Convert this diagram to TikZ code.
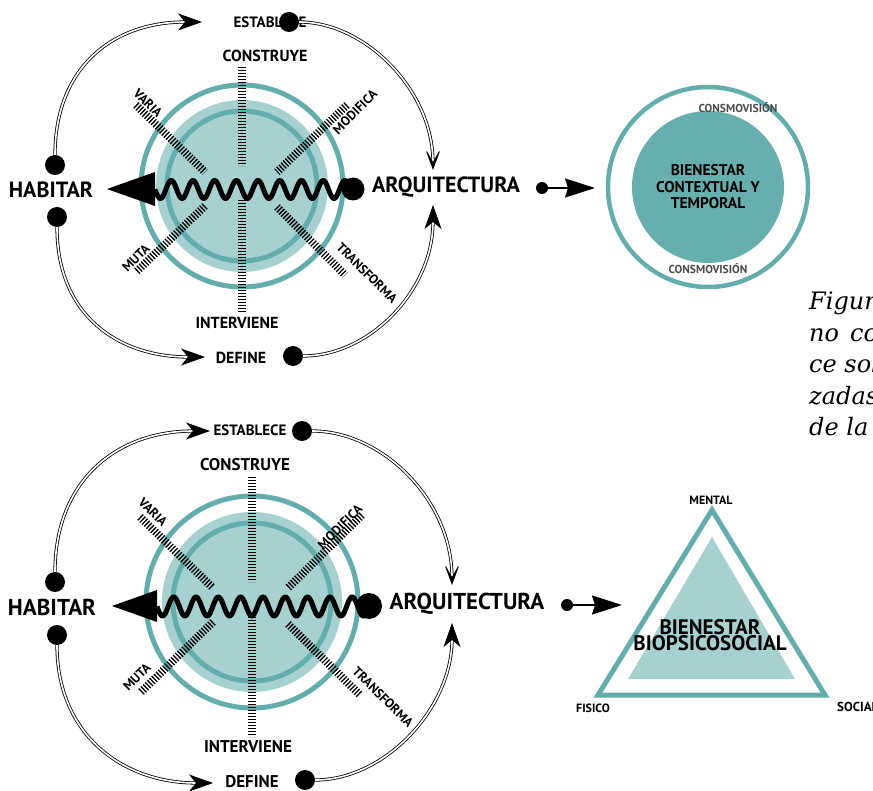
\documentclass[tikz,border=0pt]{standalone}
\usepackage{fontspec}
\setmainfont{PT Sans}
\newfontfamily\capfont{DejaVu Serif}
\usetikzlibrary{arrows.meta}
\definecolor{ringteal}{HTML}{63ADAC}
\definecolor{discteal}{HTML}{A6D1D0}
\definecolor{fullteal}{HTML}{67AFAE}
\definecolor{labelgray}{HTML}{4A4A4A}
\tikzset{
  ring/.style={draw=ringteal, line width=5pt},
  hatch/.style={line width=8pt, dash pattern=on 1.3pt off 1.7pt},
  wave/.style={line width=5pt, line join=round},
  dot/.style={circle, fill=black, inner sep=0pt, minimum size=#1},
  dot/.default=20pt,
  loopfill/.style={double=white, double distance=1.6pt, line width=0.8pt,
    -{Stealth[length=24pt,width=17pt,inset=7pt]}},
  loopopen/.style={double=white, double distance=1.6pt, line width=0.8pt,
    -{Stealth[length=23pt,width=17pt,inset=15pt]}},
  shortarrow/.style={line width=2pt, -{Stealth[length=30pt,width=19pt,inset=3pt]}},
  bigtxt/.style={inner sep=0pt, font=\bfseries\fontsize{#1}{#1}\selectfont},
  labtxt/.style={inner sep=0pt, font=\bfseries\fontsize{#1}{#1}\selectfont},
  graytxt/.style={inner sep=0pt, text=labelgray, font=\bfseries\fontsize{11.5}{11.5}\selectfont},
  capt/.style={inner sep=0pt, font=\capfont\itshape\fontsize{24}{31.5}\selectfont}
}
\begin{document}
\begin{tikzpicture}[x=1pt, y=-1pt]
  \useasboundingbox (0,0) rectangle (873,791);
  \clip (0,0) rectangle (873,791);

  % ---- upper diagram
  \draw[ring] (242,186) circle (101pt);
  \fill[discteal] (242,186) circle (86pt);
  \draw[ring] (242,186) circle (75pt);
  \draw[hatch] (242,67) -- (242,166);
  \draw[hatch] (242,200) -- (242,312);
  \draw[hatch] (136,105) -- (205,172);
  \draw[hatch] (347,105) -- (277,172);
  \draw[hatch] (205,206) -- (136,272);
  \draw[hatch] (277,207) -- (345,275);

  \node[dot=23pt] (aqa) at (353,189) {};
  \coordinate (tipa) at (107,189);
  \coordinate (basea) at (155,189);
  \draw[wave] plot[domain=155:353, samples=260, smooth] (\x, {189.5+9*sin((\x-155)*16.59)});
  \fill (tipa) -- (155,172) -- (155,206) -- cycle;

  \node[bigtxt=22] (haba) at (51,190) {HABITAR};
  \node[bigtxt=22] (arqa) at (446,187) {ARQUITECTURA};
  \node[labtxt=16] (cona) at (265,56) {CONSTRUYE};
  \node[labtxt=16] (inta) at (237,323) {INTERVIENE};
  \node[labtxt=15] (esta) at (270,22) {ESTABLECE};
  \node[labtxt=16] (defa) at (241,358) {DEFINE};
  \node[labtxt=13, rotate=-45] (vara) at (148,103) {VARIA};
  \node[labtxt=13, rotate=45] (moda) at (355,112) {MODIFICA};
  \node[labtxt=13, rotate=45] (muta) at (136,258) {MUTA};
  \node[labtxt=13, rotate=-45] (tra) at (367,273) {TRANSFORMA};

  \node[dot] (hua) at (55,165) {};
  \node[dot] (hla) at (57,217) {};
  \node[dot] (eda) at (289,22) {};
  \node[dot] (dda) at (293,356) {};
  \coordinate (tea) at (202,22);
  \coordinate (tfa) at (205,357);
  \coordinate (tda) at (433,170);
  \coordinate (tua) at (433,205);
  \draw[loopfill] (hua) .. controls +(0,-95) and +(-92,0) .. (tea);
  \draw[loopopen] (eda) .. controls +(76,0) and +(0,-80) .. (tda);
  \draw[loopfill] (hla) .. controls +(0,100) and +(-85,0) .. (tfa);
  \draw[loopfill] (dda) .. controls +(77,0) and +(0,85) .. (tua);

  % ---- circle of wellbeing
  \node[dot=12pt] (sda) at (542,188) {};
  \coordinate (sta) at (595,188);
  \draw[shortarrow] (sda) -- (sta);
  \draw[draw=ringteal, line width=4.5pt] (708,187) circle (100pt);
  \fill[fullteal] (708,187) circle (76pt);
  \node[inner sep=0pt, align=center, font=\bfseries\fontsize{15.5}{16.5}\selectfont] (bct) at (708,187)
    {BIENESTAR\\CONTEXTUAL Y\\TEMPORAL};
  \node[graytxt] (cmt) at (738,108) {CONSMOVISIÓN};
  \node[graytxt] (cmb) at (708,269) {CONSMOVISIÓN};

  \node[capt, anchor=north west, align=left] (capn) at (809,292)
    {Figur\\no\hspace{11pt}co\\ce sol\\zadas\\de la};

  % ---- lower diagram
  \draw[ring] (252,602) circle (106pt);
  \fill[discteal] (252,602) circle (90pt);
  \draw[ring] (252,602) circle (79pt);
  \draw[hatch] (252,477) -- (252,582);
  \draw[hatch] (252,617) -- (252,737);
  \draw[hatch] (140,517) -- (213,588);
  \draw[hatch] (362,515) -- (288,588);
  \draw[hatch] (213,622) -- (140,693);
  \draw[hatch] (288,624) -- (360,695);

  \node[dot=26pt] (aqb) at (369,606) {};
  \coordinate (tipb) at (112,606);
  \coordinate (baseb) at (157,606);
  \draw[wave] plot[domain=157:369, samples=280, smooth] (\x, {606.5+9.5*sin((\x-157)*16.14)});
  \fill (tipb) -- (157,590) -- (157,622) -- cycle;

  \node[bigtxt=23] (habb) at (52,607) {HABITAR};
  \node[bigtxt=23] (arqb) at (467,604) {ARQUITECTURA};
  \node[labtxt=17] (conb) at (245,465) {CONSTRUYE};
  \node[labtxt=17] (intb) at (248,747) {INTERVIENE};
  \node[labtxt=15] (estb) at (250,430) {ESTABLECE};
  \node[labtxt=17] (defb) at (252,782) {DEFINE};
  \node[labtxt=13, rotate=-45] (varb) at (153,512) {VARIA};
  \node[labtxt=13, rotate=45] (modb) at (340,527) {MODIFICA};
  \node[labtxt=13, rotate=45] (mutb) at (137,677) {MUTA};
  \node[labtxt=13, rotate=-45] (trb) at (383,697) {TRANSFORMA};

  \node[dot] (hub) at (55,582) {};
  \node[dot] (hlb) at (57,635) {};
  \node[dot] (edb) at (302,431) {};
  \node[dot] (ddb) at (305,780) {};
  \coordinate (teb) at (210,431);
  \coordinate (tfb) at (213,783);
  \coordinate (tdb) at (452,585);
  \coordinate (tub) at (452,623);
  \draw[loopfill] (hub) .. controls +(0,-100) and +(-95,0) .. (teb);
  \draw[loopopen] (edb) .. controls +(80,0) and +(0,-85) .. (tdb);
  \draw[loopfill] (hlb) .. controls +(0,100) and +(-90,0) .. (tfb);
  \draw[loopfill] (ddb) .. controls +(80,0) and +(0,85) .. (tub);

  % ---- triangle of wellbeing
  \node[dot=12pt] (sdb) at (567,605) {};
  \coordinate (stb) at (622,605);
  \draw[shortarrow] (sdb) -- (stb);
  \draw[draw=ringteal, line width=5pt] (712,510) -- (598,695) -- (825,695) -- cycle;
  \fill[discteal] (712,537) -- (628,679) -- (795,679) -- cycle;
  \node[inner sep=0pt, align=center, font=\bfseries\fontsize{21}{16.5}\selectfont] (bbs) at (710,635)
    {BIENESTAR\\BIOPSICOSOCIAL};
  \node[labtxt=12] (men) at (711,500) {MENTAL};
  \node[labtxt=12] (fis) at (593,708) {FISICO};
  \node[labtxt=13, anchor=west] (soc) at (837,707) {SOCIAL};
\end{tikzpicture}
\end{document}
